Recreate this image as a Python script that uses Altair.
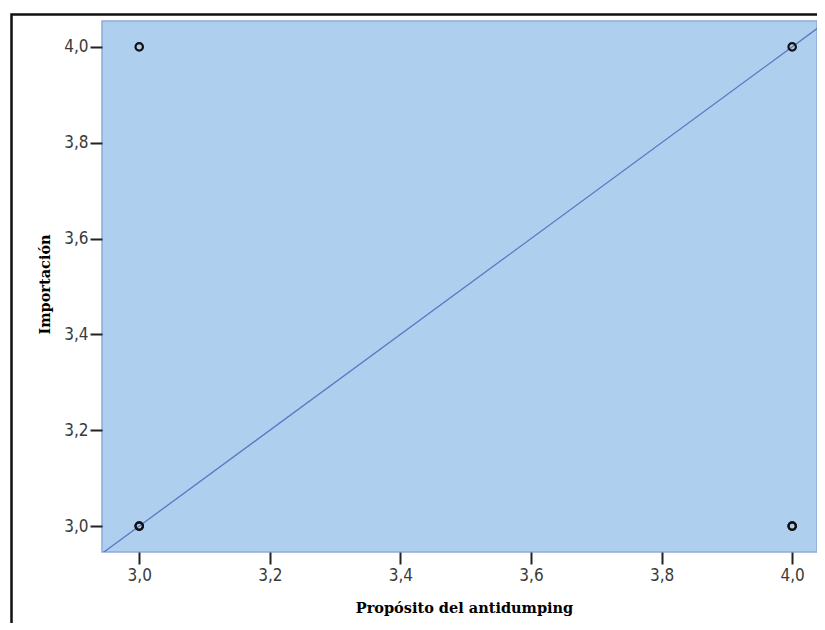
import altair as alt
import pandas as pd

# observations (x = Propósito del antidumping, y = Importación)
obs_x = [3.0, 3.0, 3.0, 4.0, 4.0, 4.0]
obs_y = [4.0, 3.0, 3.0, 4.0, 3.0, 3.0]

# fit line end points
fit_x = [2.94, 4.06]
fit_y = [2.94, 4.06]

tick_vals = [3.0, 3.2, 3.4, 3.6, 3.8, 4.0]

x_title = "Propósito del antidumping"
y_title = "Importación"

pts = pd.DataFrame({"x": obs_x, "y": obs_y})
fit = pd.DataFrame({"x": fit_x, "y": fit_y})

W, H = 715, 531
xdom = [2.943, 4.038]
ydom = [2.946, 4.054]

lab_expr = "replace(format(datum.value, '.1f'), '.', ',')"
lab_font = "DejaVu Sans Condensed, DejaVu Sans"
title_font = "DejaVu Serif"

xaxis = alt.Axis(values=tick_vals, labelExpr=lab_expr, title=x_title, grid=False,
                 domain=False, tickSize=12, tickColor="#222", tickWidth=2,
                 labelFont=lab_font, labelFontSize=17, labelColor="#3a3a3a",
                 labelPadding=3,
                 titleFont=title_font, titleFontSize=14.5, titleFontWeight="bold",
                 titleColor="#000", titleX=362, titleY=60, titleBaseline="alphabetic",
                 titleAlign="center")
yaxis = alt.Axis(values=tick_vals, labelExpr=lab_expr, title=y_title, grid=False,
                 domain=False, tickSize=12, tickColor="#222", tickWidth=2,
                 labelFont=lab_font, labelFontSize=17, labelColor="#3a3a3a",
                 labelPadding=2,
                 titleFont=title_font, titleFontSize=14.5, titleFontWeight="bold",
                 titleColor="#000", titleX=-53, titleY=263, titleBaseline="alphabetic",
                 titleAlign="center", titleAngle=270)

xs = alt.Scale(domain=xdom, nice=False, zero=False)
ys = alt.Scale(domain=ydom, nice=False, zero=False)

frame = alt.Chart(pd.DataFrame({"a": [0]})).mark_rect(
    fill=None, stroke="#111", strokeWidth=2.5
).encode(x=alt.value(-90.5), x2=alt.value(900), y=alt.value(-6.5), y2=alt.value(700))

line = alt.Chart(fit).mark_line(color="#5B78C6", strokeWidth=1.3, clip=True).encode(
    x=alt.X("x:Q", scale=xs, axis=xaxis),
    y=alt.Y("y:Q", scale=ys, axis=yaxis),
)

points = alt.Chart(pts).mark_point(
    shape="circle", size=55, filled=False, color="#111", strokeWidth=2.2, opacity=1
).encode(
    x=alt.X("x:Q", scale=xs),
    y=alt.Y("y:Q", scale=ys),
)

chart = alt.layer(line, points, frame).properties(
    width=W, height=H,
    autosize=alt.AutoSizeParams(type="none"),
    padding={"left": 94, "top": 13, "right": 0, "bottom": 71},
).configure(background="white").configure_view(
    fill="#AFCFEE", stroke="#8DAAD9", strokeWidth=1.5
)

chart.save("out.html", embed_options={"renderer": "svg", "actions": False})
